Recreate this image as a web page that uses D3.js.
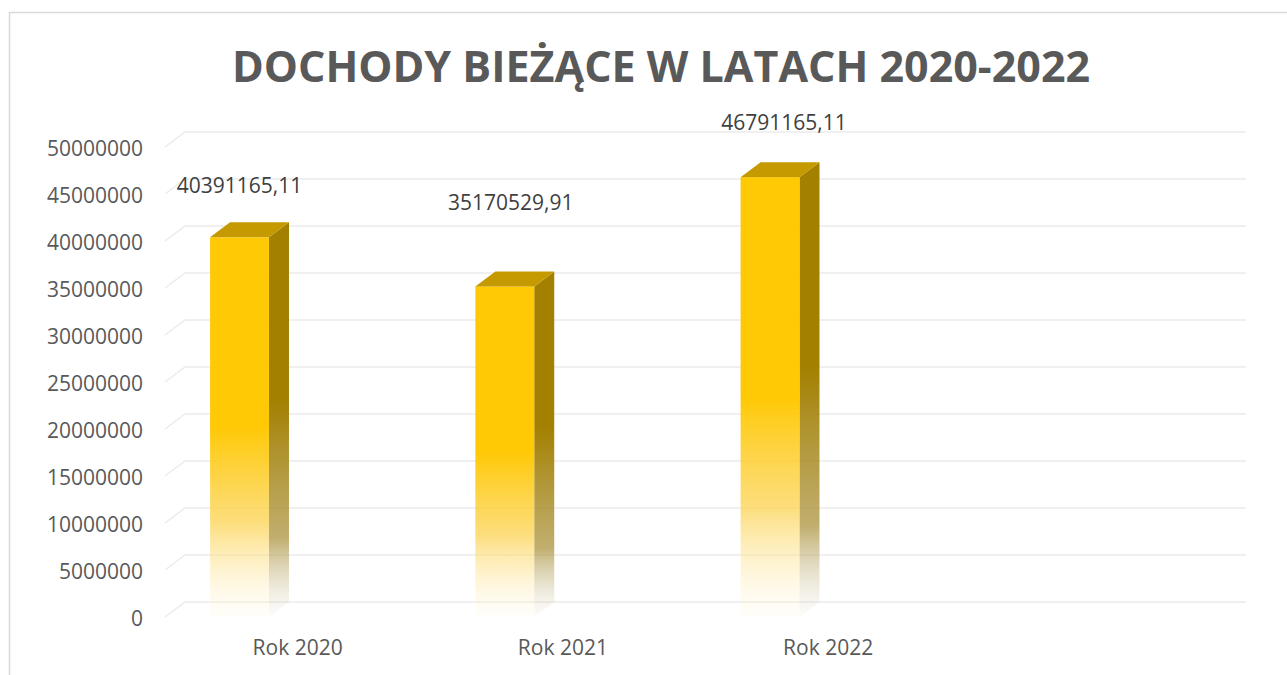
<!DOCTYPE html>
<html>
<head>
<meta charset="utf-8">
<script src="https://cdn.jsdelivr.net/npm/d3@7"></script>
<style>
  body { margin: 0; background: #fff; }
  text { font-family: "Open Sans", sans-serif; }
</style>
</head>
<body>
<div id="chart"></div>
<script>
const categories = ['Rok 2020', 'Rok 2021', 'Rok 2022', ''];
const values = [40391165.11, 35170529.91, 46791165.11];
const valueLabels = ['40391165,11', '35170529,91', '46791165,11'];
const yTicks = [0, 5000000, 10000000, 15000000, 20000000, 25000000, 30000000, 35000000, 40000000, 45000000, 50000000];
// data labels in Excel's 3D view do not sit at one fixed offset
const labelNudgeX = [0, 6, 14];
const labelNudgeY = [-52, -84, -55];

const width = 1287;
const height = 675;
const depth = {x: 20, y: -15};

const svg = d3.select('#chart').append('svg')
    .attr('width', width)
    .attr('height', height);

// chart frame
svg.append('rect')
    .attr('x', 9.5).attr('y', 12.5)
    .attr('width', 1300).attr('height', 700)
    .attr('fill', 'none')
    .attr('stroke', '#d9d9d9')
    .attr('stroke-width', 1.5);

svg.append('text')
    .attr('x', 661)
    .attr('y', 82)
    .attr('text-anchor', 'middle')
    .attr('font-size', 43)
    .attr('font-weight', 700)
    .attr('fill', '#595959')
    .text('DOCHODY BIEŻĄCE W LATACH 2020-2022');

const x = d3.scaleBand()
    .domain(categories)
    .range([165, 1226]);

const y = d3.scaleLinear()
    .domain([0, 50000000])
    .range([617, 147]);

// gridlines: slanted front edge + back wall line
const grid = svg.append('g');
yTicks.forEach(t => {
    grid.append('path')
        .attr('d', `M${x.range()[0]},${y(t)} l${depth.x},${depth.y} H${x.range()[1] + depth.x}`)
        .attr('fill', 'none')
        .attr('stroke', '#ebebeb')
        .attr('stroke-width', 1.5);
});

const yAxis = d3.axisLeft(y).tickValues(yTicks).tickSize(0).tickPadding(22).tickFormat(d3.format('d'));
svg.append('g')
    .attr('transform', `translate(${x.range()[0]},2)`)
    .call(yAxis)
    .call(g => g.select('.domain').remove())
    .selectAll('text')
    .attr('font-size', 21)
    .attr('fill', '#595959')
    .attr('font-family', '"Open Sans", sans-serif');

const xAxis = d3.axisBottom(x).tickSize(0).tickPadding(0);
svg.append('g')
    .attr('transform', 'translate(0,640)')
    .call(xAxis)
    .call(g => g.select('.domain').remove())
    .selectAll('text')
    .attr('dy', '0.71em')
    .attr('font-size', 21)
    .attr('fill', '#595959')
    .attr('font-family', '"Open Sans", sans-serif');

const defs = svg.append('defs');
const front = defs.append('linearGradient').attr('id', 'gFront')
    .attr('x1', 0).attr('y1', 0).attr('x2', 0).attr('y2', 1);
front.append('stop').attr('offset', '0').attr('stop-color', '#ffc905');
front.append('stop').attr('offset', '0.5').attr('stop-color', '#ffc905');
front.append('stop').attr('offset', '0.75').attr('stop-color', '#fcd55a').attr('stop-opacity', 0.8);
front.append('stop').attr('offset', '1').attr('stop-color', '#fff6dc').attr('stop-opacity', 0.15);

const side = defs.append('linearGradient').attr('id', 'gSide')
    .attr('x1', 0).attr('y1', 0).attr('x2', 0).attr('y2', 1);
side.append('stop').attr('offset', '0').attr('stop-color', '#a38000');
side.append('stop').attr('offset', '0.45').attr('stop-color', '#a38000');
side.append('stop').attr('offset', '0.8').attr('stop-color', '#b19a4a').attr('stop-opacity', 0.8);
side.append('stop').attr('offset', '1').attr('stop-color', '#e0dccc').attr('stop-opacity', 0.1);

const bw = x.bandwidth() * 0.222;
const off = x.bandwidth() * 0.17;

const bars = svg.selectAll('g.bar')
    .data(values)
    .enter()
    .append('g')
    .attr('class', 'bar');

bars.append('path')
    .attr('d', (d, i) => {
        const x0 = x(categories[i]) + off + bw;
        return `M${x0},${y(d)} l${depth.x},${depth.y} V${y(0) + depth.y} l${-depth.x},${-depth.y} Z`;
    })
    .attr('fill', 'url(#gSide)');

bars.append('rect')
    .attr('x', (d, i) => x(categories[i]) + off)
    .attr('y', d => y(d))
    .attr('width', bw)
    .attr('height', d => y(0) - y(d))
    .attr('fill', 'url(#gFront)');

bars.append('path')
    .attr('d', (d, i) => {
        const x0 = x(categories[i]) + off;
        return `M${x0},${y(d)} l${depth.x},${depth.y} h${bw} l${-depth.x},${-depth.y} Z`;
    })
    .attr('fill', '#c49a00');

bars.append('text')
    .attr('x', (d, i) => x(categories[i]) + off + bw / 2 + labelNudgeX[i])
    .attr('y', (d, i) => y(d) + labelNudgeY[i])
    .attr('dy', '0.35em')
    .attr('text-anchor', 'middle')
    .attr('font-size', 21)
    .attr('fill', '#404040')
    .text((d, i) => valueLabels[i]);
</script>
</body>
</html>
